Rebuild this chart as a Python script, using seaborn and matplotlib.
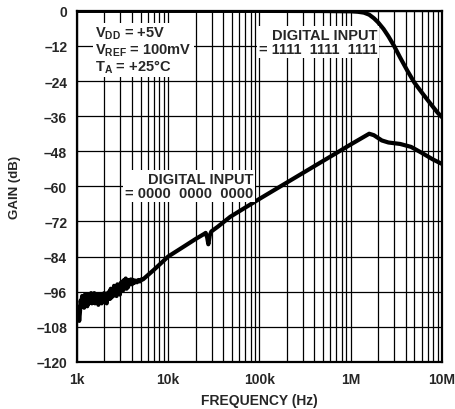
import pandas as pd
import seaborn as sns
import matplotlib.pyplot as plt
import numpy as np
from matplotlib.ticker import FixedLocator, FixedFormatter, NullFormatter

# values
freq_full = [1e3, 1e4, 1e5, 5e5, 1e6, 1.2e6, 1.4e6, 1.6e6, 1.8e6, 2.0e6, 2.3e6, 2.6e6,
             3.0e6, 3.5e6, 4.2e6, 5e6, 6e6, 7e6, 8e6, 9e6, 1e7]
gain_full = [0, 0, 0, -0.05, -0.15, -0.3, -0.6, -1.3, -2.5, -3.9, -6.2, -8.7,
             -12.0, -16.0, -20.5, -24.5, -27.8, -30.5, -32.8, -34.8, -36.3]

freq_zero = [1000, 1020, 1040, 1060, 1080, 1100, 1120, 1140, 1160, 1180, 1200, 1225,
             1250, 1275, 1300, 1325, 1350, 1375, 1400, 1430, 1460, 1490, 1520, 1550,
             1580, 1615, 1650, 1685, 1720, 1755, 1790, 1830, 1870, 1910, 1950, 1990,
             2030, 2075, 2120, 2165, 2210, 2255, 2300, 2350, 2400, 2450, 2500, 2555,
             2610, 2665, 2720, 2780, 2840, 2900, 2960, 3025, 3090, 3155, 3220, 3290,
             3360, 3430, 3500, 3565, 3630, 3715, 3800, 3910, 4020, 4135, 4250, 4400,
             4560, 4730, 4900, 5100, 5310, 7000, 10000, 15000, 20000, 25000, 25800,
             26800, 27600, 28600, 29800, 35000, 48000, 100000, 1e6, 1.6e6, 1.8e6,
             2.2e6, 2.6e6, 3.5e6, 4.6e6, 6e6, 8e6, 1e7]
gain_zero = [-101, -105, -102, -106, -103, -99, -101, -97.5, -100.5, -98, -101.5, -97,
             -100, -98.5, -101, -97, -100, -98, -99.5, -96.5, -100, -97.5, -99.5, -96.5,
             -100, -97.5, -99.5, -97, -100.5, -98, -99, -97, -100, -97.5, -99, -96.5,
             -99.5, -97, -100, -96.5, -98.5, -96, -98.5, -95, -98, -95.5, -97.5, -94,
             -97, -94.5, -97.5, -93.5, -96.5, -94, -97, -93, -95.5, -92.5, -95.5, -92,
             -94.5, -91.5, -95, -92.5, -94.5, -92, -93.5, -91.8, -93.5, -92, -93, -92.2,
             -92.8, -92, -92.5, -91.8, -91.8, -88.5, -84, -80.5, -78, -76.2, -75.9,
             -77.5, -79.8, -76.8, -75.4, -73.8, -70.4, -64.3, -45.7, -42.0, -42.5,
             -44.3, -45.0, -45.5, -46.5, -48.5, -50.8, -52.3]

y_ticks = [0, -12, -24, -36, -48, -60, -72, -84, -96, -108, -120]
x_ticks = [1e3, 1e4, 1e5, 1e6, 1e7]
x_labels = ['1k', '10k', '100k', '1M', '10M']

sns.set_style('white')
plt.rcParams['font.family'] = ['Liberation Sans', 'DejaVu Sans']
plt.rcParams['font.weight'] = 'bold'
plt.rcParams['mathtext.fontset'] = 'custom'
plt.rcParams['mathtext.rm'] = 'Liberation Sans:bold'
plt.rcParams['mathtext.bf'] = 'Liberation Sans:bold'
plt.rcParams['mathtext.default'] = 'bf'

df_full = pd.DataFrame({'freq': freq_full, 'gain': gain_full})
df_zero = pd.DataFrame({'freq': freq_zero, 'gain': gain_zero})

fig = plt.figure(figsize=(4.55, 4.1), dpi=100)
ax = fig.add_axes([0.169, 0.115, 0.802, 0.856])

sns.lineplot(data=df_full, x='freq', y='gain', ax=ax, color='black', lw=3.0,
             sort=False, estimator=None, zorder=4)
sns.lineplot(data=df_zero, x='freq', y='gain', ax=ax, color='black', lw=3.0,
             sort=False, estimator=None, zorder=4)

ax.set_xscale('log')
ax.set_xlim(1e3, 1e7)
ax.set_ylim(-120, 0)
ax.xaxis.set_major_locator(FixedLocator(x_ticks))
ax.xaxis.set_major_formatter(FixedFormatter(x_labels))
ax.xaxis.set_minor_formatter(NullFormatter())
ax.yaxis.set_major_locator(FixedLocator(y_ticks))
ax.yaxis.set_major_formatter(FixedFormatter(['0'] + ['–%d' % -v for v in y_ticks[1:]]))

ax.grid(which='both', axis='both', color='black', lw=0.9)
ax.set_axisbelow(True)
ax.tick_params(which='both', length=0, labelsize=10, pad=7)
for lab in ax.get_xticklabels() + ax.get_yticklabels():
    lab.set_fontweight('bold')
for sp in ax.spines.values():
    sp.set_color('black')
    sp.set_linewidth(1.6)

ax.set_xlabel('FREQUENCY (Hz)', fontsize=10, fontweight='bold', labelpad=5)
ax.set_ylabel('GAIN (dB)', fontsize=9.5, fontweight='bold', labelpad=11)

box = dict(facecolor='white', edgecolor='none', pad=1.5)
ax.text(0.05, 0.96, 'V$_{DD}$ = +5V\nV$_{REF}$ = 100mV\nT$_{A}$ = +25°C',
        transform=ax.transAxes, fontsize=10.5, fontweight='bold', va='top', ha='left',
        linespacing=1.0, bbox=box, zorder=5)
ax.text(0.823, 0.95, 'DIGITAL INPUT\n= 1111  1111  1111', transform=ax.transAxes,
        fontsize=10.5, fontweight='bold', va='top', ha='right', multialignment='right',
        linespacing=0.95, bbox=box, zorder=5)
ax.text(0.483, 0.54, 'DIGITAL INPUT\n= 0000  0000  0000', transform=ax.transAxes,
        fontsize=10.5, fontweight='bold', va='top', ha='right', multialignment='right',
        linespacing=0.95, bbox=box, zorder=5)

fig.savefig('out.png', dpi=100)
